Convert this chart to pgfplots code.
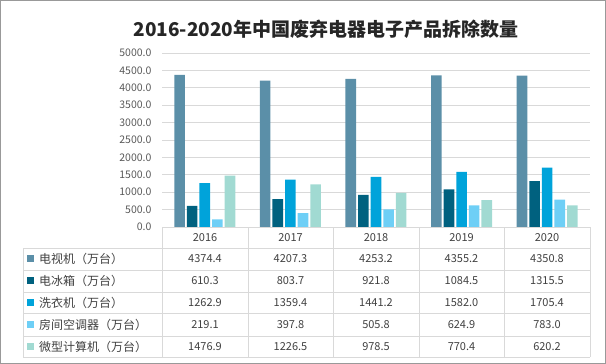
\documentclass[border=0pt]{standalone}
\usepackage{pgfplots}
\pgfplotsset{compat=1.18}
\usepackage{fontspec}
\setmainfont{Noto Sans CJK SC}
\definecolor{cA}{HTML}{5B8FA8}
\definecolor{cB}{HTML}{00617F}
\definecolor{cC}{HTML}{00A3DA}
\definecolor{cD}{HTML}{6ECFF6}
\definecolor{cE}{HTML}{A1DAD2}
\definecolor{gridgray}{HTML}{D9D9D9}
\definecolor{txt}{HTML}{404040}
\definecolor{ticktxt}{HTML}{595959}
\begin{document}
\begin{tikzpicture}[x=1pt,y=1pt]
\path[use as bounding box] (0,0) rectangle (606,364);
\begin{axis}[
  at={(162pt,137pt)}, anchor=south west, scale only axis,
  width=428pt, height=174pt,
  ymin=0, ymax=5000, ytick={0,500,...,5000},
  xmin=-0.5, xmax=4.5, xtick=\empty,
  ymajorgrids, grid style={draw=gridgray, line width=0.8pt},
  axis line style={draw=none}, major tick length=0pt,
  yticklabel style={font=\fontsize{10.5}{12}\selectfont, text=ticktxt, xshift=-7pt},
  /pgf/number format/fixed, /pgf/number format/precision=1,
  /pgf/number format/fixed zerofill, /pgf/number format/1000 sep={},
  /pgf/number format/assume math mode=true,
  ybar=2pt, bar width=10.6pt,
  clip=false,
]
\addplot[draw=none, fill=cA] coordinates {(0,4374.4) (1,4207.3) (2,4253.2) (3,4355.2) (4,4350.8)};
\addplot[draw=none, fill=cB] coordinates {(0,610.3) (1,803.7) (2,921.8) (3,1084.5) (4,1315.5)};
\addplot[draw=none, fill=cC] coordinates {(0,1262.9) (1,1359.4) (2,1441.2) (3,1582.0) (4,1705.4)};
\addplot[draw=none, fill=cD] coordinates {(0,219.1) (1,397.8) (2,505.8) (3,624.9) (4,783.0)};
\addplot[draw=none, fill=cE] coordinates {(0,1476.9) (1,1226.5) (2,978.5) (3,770.4) (4,620.2)};
\end{axis}
% title
\node[font=\fontsize{19}{23}\selectfont\bfseries, text=black!85] at (326,335) {2016-2020年中国废弃电器电子产品拆除数量};
% table lines
\begin{scope}[draw=gridgray, line width=0.8pt]
\draw (23,116) -- (590,116);
\foreach \yy in {94,72,51,28,7} {\draw (23,\yy) -- (590,\yy);}
\draw (23,7) -- (23,116);
\foreach \xx in {162,248,333,419,504,590} {\draw (\xx,7) -- (\xx,137);}
\end{scope}
% header
\foreach \xx/\yr in {205/2016,290.5/2017,376/2018,461.5/2019,547/2020}
  {\node[font=\fontsize{11}{13}\selectfont, text=txt] at (\xx,126) {\yr};}
% legend column
\foreach \yy/\c/\lab in {105/cA/电视机（万台）,83/cB/电冰箱（万台）,61.5/cC/洗衣机（万台）,39.5/cD/房间空调器（万台）,17.5/cE/微型计算机（万台）}
{
  \fill[\c] (27,\yy-3.5) rectangle (34,\yy+3.5);
  \node[anchor=west, font=\fontsize{12}{14}\selectfont, text=txt, inner sep=0pt] at (39,\yy) {\lab};
}
% values
\foreach \yy/\a/\b/\c/\d/\e in {
 105/4374.4/4207.3/4253.2/4355.2/4350.8,
 83/610.3/803.7/921.8/1084.5/1315.5,
 61.5/1262.9/1359.4/1441.2/1582.0/1705.4,
 39.5/219.1/397.8/505.8/624.9/783.0,
 17.5/1476.9/1226.5/978.5/770.4/620.2}
{
  \node[font=\fontsize{11}{13}\selectfont, text=txt] at (205,\yy) {\a};
  \node[font=\fontsize{11}{13}\selectfont, text=txt] at (290.5,\yy) {\b};
  \node[font=\fontsize{11}{13}\selectfont, text=txt] at (376,\yy) {\c};
  \node[font=\fontsize{11}{13}\selectfont, text=txt] at (461.5,\yy) {\d};
  \node[font=\fontsize{11}{13}\selectfont, text=txt] at (547,\yy) {\e};
}
% outer frame
\draw[draw=black!40, line width=0.8pt] (0.5,0.5) rectangle (605.5,363.5);
\end{tikzpicture}
\end{document}
